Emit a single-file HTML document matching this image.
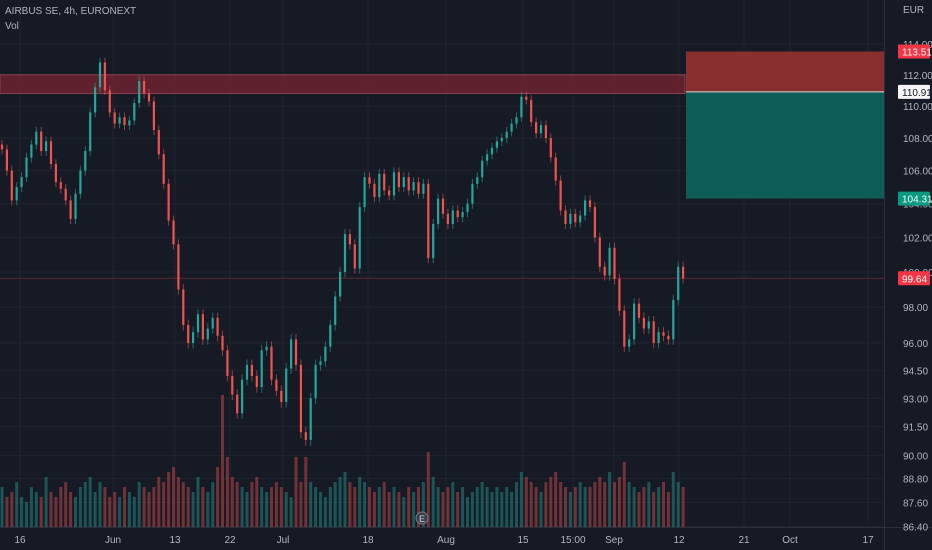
<!DOCTYPE html>
<html><head><meta charset="utf-8">
<style>
html,body{margin:0;padding:0;background:#161a25;}
#wrap{position:relative;width:932px;height:550px;overflow:hidden;background:#161a25;font-family:"Liberation Sans",sans-serif;}
svg text{font-family:"Liberation Sans",sans-serif;}
</style></head>
<body>
<div id="wrap">
<svg id="chart" width="932" height="550"></svg>
</div>
<script>
const closes=[107.3,106.0,104.2,105.0,105.6,106.8,107.6,108.4,107.2,107.8,106.4,105.3,104.9,104.2,103.1,104.6,106.0,107.2,109.6,111.2,
112.8,111.0,109.6,108.9,109.3,108.8,109.1,110.2,111.6,110.8,110.3,108.5,107.0,105.2,103.0,101.6,99.0,97.0,96.0,96.6,
97.6,96.2,96.8,97.4,96.4,95.6,94.2,93.2,92.2,94.0,94.8,94.2,93.6,95.6,95.8,94.0,93.4,92.8,94.6,96.2,
94.8,91.2,90.8,93.0,94.8,95.0,95.8,97.0,98.6,100.0,102.2,101.6,100.2,103.8,105.6,105.2,104.4,105.8,104.8,104.5,
105.9,105.0,105.6,104.8,105.3,104.6,105.2,100.8,102.8,104.3,103.4,102.8,103.6,103.2,103.5,104.0,105.2,105.6,106.6,107.0,
107.4,107.8,108.0,108.4,108.9,109.3,110.6,110.4,109.0,108.3,108.8,108.0,106.8,105.4,103.6,102.8,103.4,102.9,103.3,104.2,
103.8,102.0,100.3,99.8,101.4,99.6,97.8,95.8,96.2,98.2,97.4,96.8,97.2,96.0,96.6,96.4,96.2,98.4,100.3,99.64];
const volumes=[40,30,35,45,30,25,40,35,30,50,35,30,40,45,35,30,40,45,50,35,
45,40,30,35,30,40,35,30,45,40,35,40,50,45,55,60,50,45,40,35,
50,40,35,45,60,132,70,50,45,40,35,45,50,40,35,40,45,40,35,30,
70,45,70,45,40,35,30,40,45,50,55,45,40,50,45,40,35,40,45,35,
40,35,30,40,35,40,45,75,50,40,35,40,45,35,40,30,35,40,45,40,
35,40,35,40,35,45,55,50,45,40,35,45,50,55,45,40,35,40,45,40,
40,45,50,45,55,45,50,65,45,40,35,40,45,35,40,45,35,55,45,40];
const priceTicks=[114,112,110,108,106,104,102,100,98,96,94.5,93,91.5,90,88.8,87.6,86.4];
const tickLabels=["114.00","112.00","110.00","108.00","106.00","104.00","102.00","100.00","98.00","96.00","94.50","93.00","91.50","90.00","88.80","87.60","86.40"];
const dateLabels=["16","Jun","13","22","Jul","18","Aug","15","15:00","Sep","12","21","Oct","17"];
const datePos=[20,113,175,230,283,368,446,523,573,614,679,744,790,868];
const zonePrices=[112.0,110.8];
const posBox=[113.51,110.91,104.31];
const lastPrice=99.64;

const NS="http://www.w3.org/2000/svg";
const svg=document.getElementById('chart');
function yP(p){return 44+(Math.log(114)-Math.log(p))*1740;}
function xI(i){return 2+i*4.9;}
const volBase=527, volScale=1.0;
function yV(v){return volBase-v*volScale;}
function mk(tag,attrs,parent){const e=document.createElementNS(NS,tag);for(const k in attrs)e.setAttribute(k,attrs[k]);(parent||svg).appendChild(e);return e;}
const UP='#26a69a', DN='#ef5350';

const grid=mk('g',{});


priceTicks.forEach(p=>{mk('line',{x1:0,x2:884,y1:yP(p),y2:yP(p),stroke:'#20242f','stroke-width':1},grid);});
datePos.forEach(x=>{mk('line',{x1:x,x2:x,y1:0,y2:527,stroke:'#20242f','stroke-width':1},grid);});

const vg=mk('g',{});


volumes.forEach((v,i)=>{
  const o=i>0?closes[i-1]:closes[i];
  const up=closes[i]>=o;
  const r=mk('rect',{x:xI(i)-1.5,y:yV(v),width:3,height:v*volScale,fill:up?'rgba(38,166,154,0.42)':'rgba(239,83,80,0.42)'},vg);
  
  
});

const z=mk('rect',{x:0,y:yP(zonePrices[0]),width:685,height:yP(zonePrices[1])-yP(zonePrices[0]),fill:'rgba(115,36,48,0.78)',stroke:'#8a4450','stroke-width':1});



const lp=mk('line',{x1:0,x2:884,y1:yP(lastPrice),y2:yP(lastPrice),stroke:'#5e2a2e','stroke-width':1});



const cg=mk('g',{});


closes.forEach((c,i)=>{
  const o=i>0?closes[i-1]:c+0.3;
  const up=c>=o, col=up?UP:DN;
  const hi=Math.max(o,c)+0.3, lo=Math.min(o,c)-0.3;
  const x=xI(i);
  const w=mk('line',{x1:x,x2:x,y1:yP(hi),y2:yP(lo),stroke:col,'stroke-width':1,opacity:0.6},cg);
  
  
  const top=yP(Math.max(o,c)), bot=yP(Math.min(o,c));
  const b=mk('rect',{x:x-1.1,y:top,width:2.2,height:Math.max(1,bot-top),fill:col},cg);
  
  
});

const pb=mk('g',{});


mk('rect',{x:686,y:yP(posBox[0]),width:198,height:yP(posBox[1])-yP(posBox[0]),fill:'#8a2f30'},pb);
mk('rect',{x:686,y:yP(posBox[1]),width:198,height:yP(posBox[2])-yP(posBox[1]),fill:'#0e5e57'},pb);
mk('line',{x1:686,x2:884,y1:yP(posBox[1]),y2:yP(posBox[1]),stroke:'#ddd','stroke-width':1},pb);

mk('line',{x1:884.5,x2:884.5,y1:0,y2:550,stroke:'#2a2e39'});
mk('line',{x1:0,x2:932,y1:527.5,y2:527.5,stroke:'#2a2e39'});
const ax=mk('g',{});


priceTicks.forEach((p,i)=>{
  const t=mk('text',{x:903,y:yP(p)+4,fill:'#b2b5be','font-size':10},ax);t.textContent=tickLabels[i];
  
  
});
const eur=mk('text',{x:903,y:13,fill:'#b2b5be','font-size':10});eur.textContent='EUR';


function tag(p,bg,fg,name){
  const g=mk('g',{});
  
  
  mk('rect',{x:898,y:yP(p)-7,width:32,height:14,fill:bg,rx:1},g);
  const t=mk('text',{x:902,y:yP(p)+4,fill:fg,'font-size':10},g);t.textContent=p.toFixed(2);
}
tag(posBox[0],'#f23645','#fff','stop-price-tag');
tag(posBox[1],'#f5f5f5','#131722','entry-price-tag');
tag(posBox[2],'#089981','#fff','target-price-tag');
tag(lastPrice,'#f23645','#fff','last-price-tag');

const dg=mk('g',{});


dateLabels.forEach((d,i)=>{
  const t=mk('text',{x:datePos[i],y:543,fill:'#b2b5be','font-size':10,'text-anchor':'middle'},dg);t.textContent=d;
  
  
});

const em=mk('g',{});


mk('circle',{cx:422,cy:518,r:6,fill:'#3a3e4a',stroke:'#787b86'},em);
const et=mk('text',{x:422,y:522,fill:'#d1d4dc','font-size':9,'text-anchor':'middle'},em);et.textContent='E';

const t1=mk('text',{x:5,y:14,fill:'#b2b5be','font-size':10});t1.textContent='AIRBUS SE, 4h, EURONEXT';


const t2=mk('text',{x:5,y:29,fill:'#b2b5be','font-size':10});t2.textContent='Vol';


</script>
</body></html>
